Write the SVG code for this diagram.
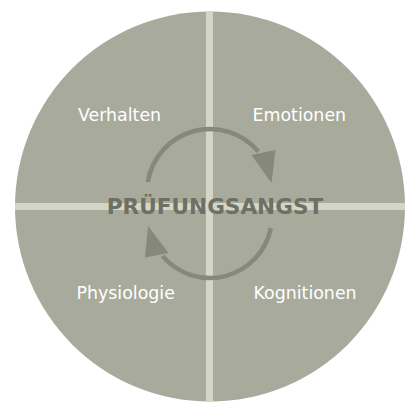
<svg xmlns="http://www.w3.org/2000/svg" width="420" height="420" viewBox="0 0 420 420">
  <style>
    .label { font-family: "DejaVu Sans", Verdana, sans-serif; font-size: 17.4px; fill: #ffffff; }
    .title { font-family: "DejaVu Sans", Verdana, sans-serif; font-size: 21.6px; font-weight: bold; fill: #6e7063; }
    .bar { fill: #d3d5c6; }
    .arc { fill: none; stroke: #86887a; stroke-width: 4.5; }
    .head { fill: #86887a; }
  </style>
  <defs>
    <clipPath id="disc">
      <circle cx="210" cy="206.5" r="195"/>
    </clipPath>
  </defs>
  <rect width="420" height="420" fill="#ffffff"/>
  <g id="background">
    <circle cx="210" cy="206.5" r="195" fill="#a8aa9c"/>
    <g clip-path="url(#disc)">
      <rect class="bar" x="206" y="0" width="7" height="420"/>
      <rect class="bar" x="0" y="203" width="420" height="7"/>
    </g>
  </g>
  <g id="connectors">
    <path class="arc" d="M 147.8 182 A 63 63 0 0 1 258.3 151.5"/>
    <polygon class="head" points="251.5,155 275.5,150 271.5,183"/>
    <path class="arc" d="M 270.8 228 A 62 62 0 0 1 162.5 255.9"/>
    <polygon class="head" points="148,226 145,257.5 168.5,253"/>
  </g>
  <g id="node-verhalten">
    <text class="label" x="78" y="121">Verhalten</text>
  </g>
  <g id="node-emotionen">
    <text class="label" x="252.5" y="121">Emotionen</text>
  </g>
  <g id="node-physiologie">
    <text class="label" x="76.5" y="299">Physiologie</text>
  </g>
  <g id="node-kognitionen">
    <text class="label" x="253.5" y="299">Kognitionen</text>
  </g>
  <g id="node-center">
    <text class="title" x="215" y="214" text-anchor="middle">PRÜFUNGSANGST</text>
  </g>
</svg>
